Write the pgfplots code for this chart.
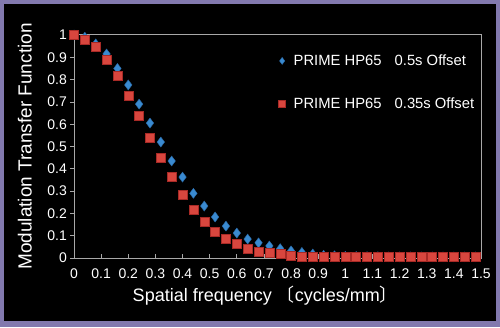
\documentclass[border=0pt]{standalone}
\usepackage{pgfplots}
\pgfplotsset{compat=1.18}
\usepackage{fontspec}
\setmainfont{Liberation Sans}
\newfontfamily\cjk{Noto Sans CJK JP}
\definecolor{frame}{HTML}{8279AE}
\definecolor{mblue}{HTML}{3A8AD0}
\definecolor{mbluedark}{HTML}{2A6AA8}
\definecolor{mred}{HTML}{D8463E}
\definecolor{mreddark}{HTML}{A82A26}
\definecolor{axgray}{HTML}{A8A8A8}
\pgfplotstableread{
x y
0 1.0
0.04 0.99
0.08 0.96
0.12 0.915
0.16 0.85
0.20 0.776
0.24 0.69
0.28 0.605
0.32 0.52
0.36 0.435
0.40 0.363
0.44 0.29
0.48 0.233
0.52 0.184
0.56 0.143
0.60 0.112
0.64 0.085
0.68 0.068
0.72 0.054
0.76 0.042
0.80 0.032
0.84 0.025
0.88 0.018
0.92 0.012
0.96 0.010
1.00 0.008
1.04 0.007
1.08 0.006
1.12 0.006
1.16 0.005
1.20 0.005
1.24 0.005
1.28 0.005
1.32 0.005
1.36 0.005
1.40 0.005
1.44 0.005
1.48 0.005
}\blueData
\pgfplotstableread{
x y
0 1.0
0.04 0.98
0.08 0.946
0.12 0.89
0.16 0.816
0.20 0.73
0.24 0.637
0.28 0.54
0.32 0.45
0.36 0.363
0.40 0.282
0.44 0.215
0.48 0.161
0.52 0.117
0.56 0.085
0.60 0.063
0.64 0.043
0.68 0.030
0.72 0.025
0.76 0.018
0.80 0.012
0.84 0.008
0.88 0.006
0.92 0.005
0.96 0.005
1.00 0.005
1.04 0.005
1.08 0.005
1.12 0.005
1.16 0.005
1.20 0.005
1.24 0.005
1.28 0.005
1.32 0.005
1.36 0.005
1.40 0.005
1.44 0.005
1.48 0.005
}\redData
\begin{document}
\begin{tikzpicture}
\fill[frame] (0,0) rectangle (500pt,327pt);
\fill[black] (4pt,6pt) rectangle (496pt,323pt);
\begin{axis}[
  at={(74pt,69pt)}, anchor=south west,
  scale only axis, width=407pt, height=223pt,
  xmin=0, xmax=1.5, ymin=0, ymax=1,
  clip=false,
  axis line style={axgray, line width=1pt},
  xtick={0,0.1,...,1.5},
  xticklabels={0,0.1,0.2,0.3,0.4,0.5,0.6,0.7,0.8,0.9,1,1.1,1.2,1.3,1.4,1.5},
  ytick={0,0.1,...,1},
  yticklabels={0,0.1,0.2,0.3,0.4,0.5,0.6,0.7,0.8,0.9,1},
  tick style={axgray, line width=0.8pt},
  major tick length=4pt,
  xtick pos=bottom, ytick pos=left,
  xtick align=inside, ytick align=outside,
  tick label style={font=\fontsize{14}{14}\selectfont, text=white},
  xticklabel style={inner xsep=0pt, yshift=-7pt},
  yticklabel style={inner xsep=0pt, xshift=-3pt},
  xlabel={Spatial frequency {\cjk 〔}cycles/mm{\cjk 〕}},
  ylabel={Modulation Transfer Function},
  label style={text=white},
  xlabel style={font=\fontsize{18}{18}\selectfont, at={(ticklabel cs:0.47)}, anchor=north, yshift=-1pt},
  ylabel style={font=\fontsize{19}{19}\selectfont, yshift=12pt},
  legend style={at={(0.495,0.93)}, anchor=north west, draw=none, fill=none,
    text=white, font=\fontsize{14.8}{14.8}\selectfont, row sep=27pt,
    legend cell align=left},
  legend image code/.code={\draw[#1] plot coordinates {(0.12cm,0cm)};},
]
\addplot[only marks, mark=diamond*, mark size=5pt, mark options={fill=mblue, draw=mbluedark, line width=0.4pt}, legend image post style={mark size=3.5pt}] table {\blueData};
\addlegendentry{\hspace{6pt}PRIME HP65\hspace{13pt}0.5s Offset}
\addplot[only marks, mark=square*, mark size=4.5pt, mark options={fill=mred, draw=mreddark, line width=0.4pt}, legend image post style={mark size=3.5pt}] table {\redData};
\addlegendentry{\hspace{6pt}PRIME HP65\hspace{13pt}0.35s Offset}
\end{axis}
\end{tikzpicture}
\end{document}
